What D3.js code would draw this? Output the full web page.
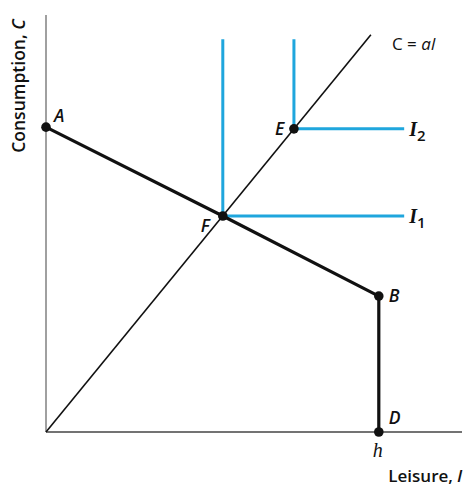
<!DOCTYPE html>
<html><head><meta charset="utf-8">
<script src="https://cdn.jsdelivr.net/npm/d3@7"></script>
<style>body{margin:0;background:#fff}</style>
</head><body>
<script>
// Data (model units)
const hLeisure = 80;            // time endowment h
const pointNames = ["A","F","B","D","E"];
const pointX = [0, 42.5, 80, 80, 59.6];
const pointY = [73.1, 51.8, 32.6, 0, 72.7];
const budgetOrder = ["A","F","B","D"];
const slopeA = 1.22;            // C = a l
const rayEndX = 78.1;
const indifferenceNames = ["I1","I2"];
const indifferenceCornerX = [42.5, 59.6];
const indifferenceCornerY = [51.8, 72.7];
const indifferenceTopY = 94.2;
const indifferenceRightX = 86.1;

const W = 476, H = 495;
const svg = d3.select("body").append("svg").attr("width", W).attr("height", H);
const x = d3.scaleLinear().domain([0, 100]).range([46, 462]);
const y = d3.scaleLinear().domain([0, 100]).range([432, 15]);

// axes
svg.append("line").attr("x1", x(0)).attr("x2", x(0)).attr("y1", y(0)).attr("y2", y(100))
  .attr("stroke", "#808080").attr("stroke-width", 1.5);
svg.append("line").attr("x1", x(0)).attr("x2", x(100)).attr("y1", y(0)).attr("y2", y(0))
  .attr("stroke", "#444").attr("stroke-width", 1.5);

const P = {};
pointNames.forEach((n, i) => P[n] = [pointX[i], pointY[i]]);

// ray C = al
svg.append("line").attr("x1", x(0)).attr("y1", y(0))
  .attr("x2", x(rayEndX)).attr("y2", y(slopeA * rayEndX))
  .attr("stroke", "#111").attr("stroke-width", 1.6);

// indifference curves
const blue = "#1fa6dd";
indifferenceNames.forEach((n, i) => {
  const cx = indifferenceCornerX[i], cy = indifferenceCornerY[i];
  svg.append("path")
    .attr("d", d3.line().x(d => x(d[0])).y(d => y(d[1]))([[cx, indifferenceTopY],[cx, cy],[indifferenceRightX, cy]]))
    .attr("fill", "none").attr("stroke", blue).attr("stroke-width", 3);
  const t = svg.append("text").attr("x", x(indifferenceRightX) + 5).attr("y", y(cy) + 7)
    .attr("font-family", "'Liberation Serif', serif").attr("font-style", "italic").attr("font-weight", "bold")
    .attr("font-size", 20).attr("fill", "#111");
  t.append("tspan").text("I");
  t.append("tspan").attr("font-family", "'Open Sans', sans-serif").attr("font-style", "normal").attr("font-weight", "600")
    .attr("font-size", 15).attr("dy", 5).text(n.slice(1));
});

// budget constraint
svg.append("path")
  .attr("d", d3.line().x(d => x(d[0])).y(d => y(d[1]))(budgetOrder.map(n => P[n])))
  .attr("fill", "none").attr("stroke", "#111").attr("stroke-width", 3.2).attr("stroke-linejoin", "round");

// points
pointNames.forEach(n => {
  svg.append("circle").attr("cx", x(P[n][0])).attr("cy", y(P[n][1])).attr("r", 4.8).attr("fill", "#111");
});

// point labels
const labelOffsets = {A:[8,-5], F:[-22,16], B:[10,6], D:[10,-8], E:[-19,6]};
pointNames.forEach(n => {
  svg.append("text").attr("x", x(P[n][0]) + labelOffsets[n][0]).attr("y", y(P[n][1]) + labelOffsets[n][1])
    .attr("font-family", "'Open Sans', sans-serif").attr("font-style", "italic").attr("font-weight", "600")
    .attr("font-size", 17.5).attr("fill", "#111").text(n);
});

// C = al label
const cl = svg.append("text").attr("x", 392).attr("y", 50)
  .attr("font-family", "'Open Sans', sans-serif").attr("font-size", 17).attr("fill", "#111");
cl.append("tspan").text("C = ");
cl.append("tspan").attr("font-style", "italic").text("al");

// h label
svg.append("text").attr("x", x(hLeisure) - 1).attr("y", 457).attr("text-anchor", "middle")
  .attr("font-family", "'Liberation Serif', serif").attr("font-style", "italic")
  .attr("font-size", 20).attr("fill", "#111").text("h");

// axis titles
const xl = svg.append("text").attr("x", 462).attr("y", 482).attr("text-anchor", "end")
  .attr("font-family", "'Open Sans', sans-serif").attr("font-weight", "600").attr("font-size", 17).attr("fill", "#111");
xl.append("tspan").text("Leisure, ");
xl.append("tspan").attr("font-style", "italic").text("l");

const yl = svg.append("text").attr("transform", "translate(25,86) rotate(-90)").attr("text-anchor", "middle")
  .attr("font-family", "'Open Sans', sans-serif").attr("font-weight", "600").attr("font-size", 17.5).attr("fill", "#111");
yl.append("tspan").text("Consumption, ");
yl.append("tspan").attr("font-style", "italic").text("C");
</script>
</body></html>
